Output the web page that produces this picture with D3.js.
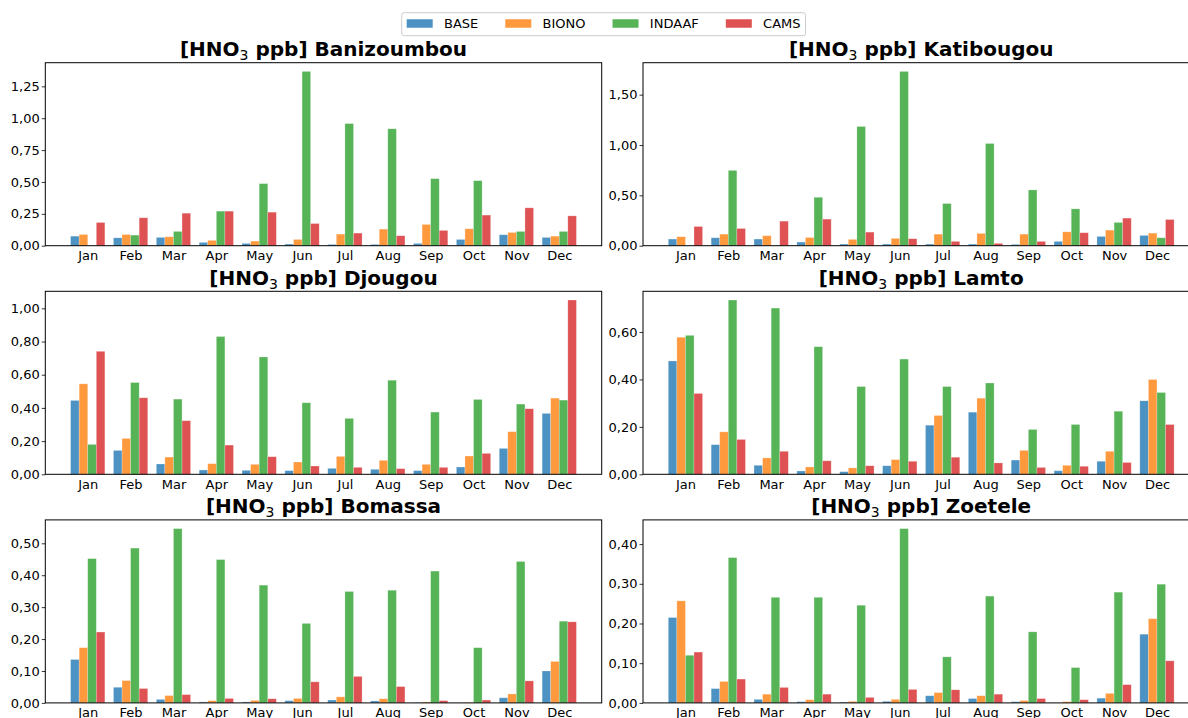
<!DOCTYPE html>
<html>
<head>
<meta charset="utf-8">
<script src="https://cdn.jsdelivr.net/npm/d3@7"></script>
<style>
  html, body { margin: 0; padding: 0; background: #fff; }
  svg { display: block; font-family: "DejaVu Sans", sans-serif; }
</style>
</head>
<body>
<svg id="chart" width="1188" height="718"></svg>
<script>
// Monthly mean HNO3 (ppb) at six INDAAF stations: three model runs vs. observations
const months = ["Jan", "Feb", "Mar", "Apr", "May", "Jun", "Jul", "Aug", "Sep", "Oct", "Nov", "Dec"];
const seriesNames = ["BASE", "BIONO", "INDAAF", "CAMS"];
const seriesColors = ["#1f77b4", "#ff7f0e", "#2ca02c", "#d62728"];

// each station: [BASE, BIONO, INDAAF, CAMS], one value per month
const banizoumbou = [
  [0.075, 0.062, 0.065, 0.026, 0.018, 0.013, 0.010, 0.010, 0.018, 0.049, 0.086, 0.065],
  [0.088, 0.088, 0.070, 0.042, 0.036, 0.049, 0.091, 0.130, 0.167, 0.133, 0.104, 0.075],
  [0.000, 0.083, 0.112, 0.271, 0.487, 1.367, 0.958, 0.917, 0.526, 0.510, 0.112, 0.112],
  [0.182, 0.219, 0.255, 0.271, 0.263, 0.174, 0.099, 0.078, 0.120, 0.240, 0.297, 0.234]
];
const katibougou = [
  [0.066, 0.079, 0.066, 0.036, 0.016, 0.016, 0.016, 0.016, 0.013, 0.043, 0.092, 0.102],
  [0.089, 0.115, 0.099, 0.082, 0.063, 0.073, 0.115, 0.122, 0.115, 0.138, 0.155, 0.125],
  [0.000, 0.748, 0.000, 0.481, 1.184, 1.731, 0.419, 1.015, 0.554, 0.366, 0.231, 0.079],
  [0.191, 0.171, 0.244, 0.264, 0.135, 0.069, 0.043, 0.023, 0.043, 0.129, 0.274, 0.260]
];
const djougou = [
  [0.445, 0.144, 0.062, 0.026, 0.024, 0.022, 0.036, 0.030, 0.022, 0.044, 0.156, 0.367],
  [0.545, 0.216, 0.104, 0.064, 0.060, 0.074, 0.108, 0.084, 0.060, 0.110, 0.257, 0.459],
  [0.180, 0.553, 0.453, 0.830, 0.707, 0.431, 0.337, 0.567, 0.375, 0.451, 0.423, 0.447],
  [0.741, 0.461, 0.323, 0.176, 0.106, 0.050, 0.042, 0.034, 0.042, 0.126, 0.395, 1.050]
];
const lamto = [
  [0.478, 0.125, 0.038, 0.014, 0.011, 0.036, 0.207, 0.262, 0.060, 0.015, 0.055, 0.310],
  [0.578, 0.179, 0.069, 0.031, 0.027, 0.062, 0.248, 0.321, 0.101, 0.038, 0.097, 0.400],
  [0.586, 0.735, 0.701, 0.538, 0.370, 0.486, 0.370, 0.385, 0.189, 0.210, 0.266, 0.345],
  [0.341, 0.147, 0.097, 0.057, 0.036, 0.055, 0.072, 0.048, 0.029, 0.034, 0.050, 0.210]
];
const bomassa = [
  [0.136, 0.049, 0.011, 0.003, 0.003, 0.007, 0.009, 0.006, 0.001, 0.000, 0.016, 0.100],
  [0.173, 0.070, 0.023, 0.007, 0.008, 0.014, 0.019, 0.013, 0.003, 0.001, 0.028, 0.130],
  [0.452, 0.485, 0.546, 0.449, 0.369, 0.249, 0.349, 0.353, 0.413, 0.173, 0.443, 0.256],
  [0.222, 0.045, 0.026, 0.014, 0.013, 0.066, 0.083, 0.051, 0.007, 0.009, 0.069, 0.254]
];
const zoetele = [
  [0.215, 0.036, 0.009, 0.003, 0.002, 0.004, 0.018, 0.011, 0.003, 0.000, 0.012, 0.173],
  [0.257, 0.054, 0.022, 0.008, 0.004, 0.009, 0.026, 0.018, 0.006, 0.003, 0.024, 0.212],
  [0.120, 0.366, 0.266, 0.266, 0.246, 0.439, 0.116, 0.269, 0.179, 0.089, 0.279, 0.299],
  [0.128, 0.060, 0.039, 0.022, 0.014, 0.034, 0.033, 0.022, 0.011, 0.008, 0.046, 0.106]
];

// y tick values per station
const banizoumbouTicks = [0, 0.25, 0.5, 0.75, 1.0, 1.25];
const katibougouTicks = [0, 0.5, 1.0, 1.5];
const djougouTicks = [0, 0.2, 0.4, 0.6, 0.8, 1.0];
const lamtoTicks = [0, 0.2, 0.4, 0.6];
const bomassaTicks = [0, 0.1, 0.2, 0.3, 0.4, 0.5];
const zoeteleTicks = [0, 0.1, 0.2, 0.3, 0.4];

const panels = [
  { station: "Banizoumbou", values: banizoumbou, ticks: banizoumbouTicks, col: 0, row: 0 },
  { station: "Katibougou", values: katibougou, ticks: katibougouTicks, col: 1, row: 0 },
  { station: "Djougou", values: djougou, ticks: djougouTicks, col: 0, row: 1 },
  { station: "Lamto", values: lamto, ticks: lamtoTicks, col: 1, row: 1 },
  { station: "Bomassa", values: bomassa, ticks: bomassaTicks, col: 0, row: 2 },
  { station: "Zoetele", values: zoetele, ticks: zoeteleTicks, col: 1, row: 2 }
];

// axes frames (the right column runs past the page edge)
const colX = [[45.3, 601.7], [643.0, 1199.4]];
const rowY = [[62.7, 245.7], [291.3, 474.3], [519.9, 702.9]];

const barWidth = 0.2;
const fontSize = 13;
const fmt = v => d3.format(".2f")(v).replace(".", ",");

const svg = d3.select("#chart");

panels.forEach(p => {
  const [x0, x1] = colX[p.col];
  const [y0, y1] = rowY[p.row];
  const ymax = d3.max(p.values.flat()) * 1.05;
  const x = d3.scaleLinear().domain([-0.99, 11.99]).range([x0, x1]);
  const y = d3.scaleLinear().domain([0, ymax]).range([y1, y0]);

  const g = svg.append("g");

  // bars
  p.values.forEach((vals, k) => {
    const offset = (k - 1.5) * barWidth;
    g.append("g")
      .selectAll("rect")
      .data(vals)
      .join("rect")
      .attr("x", (d, i) => x(i + offset - barWidth / 2))
      .attr("width", x(barWidth) - x(0))
      .attr("y", d => y(d))
      .attr("height", d => y(0) - y(d))
      .attr("fill", seriesColors[k])
      .attr("fill-opacity", 0.8)
      .attr("stroke", "#ffffff")
      .attr("stroke-opacity", 0.35)
      .attr("stroke-width", 0.7);
  });

  // y axis
  const yAxis = d3.axisLeft(y).tickValues(p.ticks).tickFormat(fmt).tickSize(3.5).tickPadding(2);
  const ya = g.append("g").attr("transform", `translate(${x0},0)`).call(yAxis);
  ya.select(".domain").remove();
  ya.selectAll("line").attr("stroke", "#000").attr("stroke-width", 0.8);
  ya.selectAll("text")
    .attr("font-size", fontSize)
    .attr("font-family", "DejaVu Sans")
    .attr("fill", "#000");

  // x axis (month names)
  const xAxis = d3.axisBottom(x).tickValues(d3.range(12)).tickFormat(i => months[i]).tickSize(0).tickPadding(5);
  const xa = g.append("g").attr("transform", `translate(0,${y1})`).call(xAxis);
  xa.select(".domain").remove();
  xa.selectAll("text")
    .attr("font-size", fontSize)
    .attr("font-family", "DejaVu Sans")
    .attr("fill", "#000");

  // frame
  g.append("rect")
    .attr("x", x0).attr("y", y0)
    .attr("width", x1 - x0).attr("height", y1 - y0)
    .attr("fill", "none")
    .attr("stroke", "#000")
    .attr("stroke-width", 1);

  // title
  const t = g.append("text")
    .attr("x", (x0 + x1) / 2)
    .attr("y", y0 - 6.5)
    .attr("text-anchor", "middle")
    .attr("font-size", 20)
    .attr("font-weight", "bold")
    .attr("fill", "#000");
  t.append("tspan").text("[HNO");
  t.append("tspan").attr("font-size", 14).attr("font-weight", "normal").attr("dy", 4).text("3");
  t.append("tspan").attr("dy", -4).text(" ppb] " + p.station);
});

// legend, one row above the panels
const legend = svg.append("g").attr("transform", "translate(401.7,0)");
const legendBox = legend.append("rect");
const handleW = 26, handleH = 8.5, textPad = 11.3, colSpace = 27, padX = 5;
let cx = padX;
seriesNames.forEach((name, k) => {
  legend.append("rect")
    .attr("x", cx).attr("y", 23.5 - handleH / 2)
    .attr("width", handleW).attr("height", handleH)
    .attr("fill", seriesColors[k]).attr("fill-opacity", 0.8);
  const txt = legend.append("text")
    .attr("x", cx + handleW + textPad)
    .attr("y", 23.5)
    .attr("dy", "0.36em")
    .attr("font-size", fontSize)
    .attr("fill", "#000")
    .text(name);
  cx += handleW + textPad + txt.node().getComputedTextLength();
  if (k < seriesNames.length - 1) cx += colSpace;
});
const legendW = cx + padX;
legendBox
  .attr("x", 0).attr("y", 12.7)
  .attr("width", legendW).attr("height", 23)
  .attr("rx", 2.5)
  .attr("fill", "#fff").attr("fill-opacity", 0.8)
  .attr("stroke", "#cccccc").attr("stroke-width", 1);
</script>
</body>
</html>
